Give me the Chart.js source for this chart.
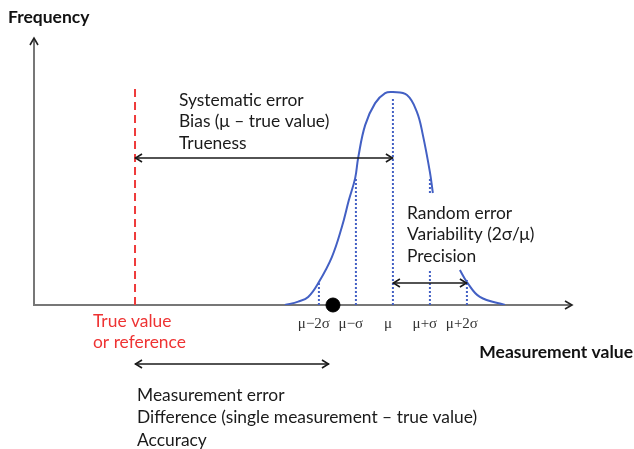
<!DOCTYPE html>
<html><head><meta charset="utf-8">
<style>html,body{margin:0;padding:0;background:#fff;overflow:hidden}</style>
<script src="https://cdn.jsdelivr.net/npm/chart.js@4"></script>
</head><body>
<canvas id="c" width="634" height="449"></canvas>
<script>
// ---- data (x in sigma units, y = relative frequency, peak = 1) ----
const curveX = [6.78, 7.14, 7.41, 7.70, 8.05, 8.32, 8.51, 8.68, 8.76, 8.95, 9.22, 9.49, 9.70, 10.08, 10.35, 10.51, 10.70, 10.78, null, 11.51, 11.70, 12.05, 12.73];
const curveY = [0, 0.016, 0.038, 0.108, 0.225, 0.366, 0.493, 0.596, 0.69, 0.845, 0.948, 0.995, 1.0, 0.986, 0.906, 0.798, 0.624, 0.526, null, 0.164, 0.108, 0.038, 0];
const sigmaLabels = ['μ−2σ', 'μ−σ', 'μ', 'μ+σ', 'μ+2σ'];
const sigmaX = [7.70, 8.70, 9.70, 10.70, 11.70];
const sigmaTop = [0.108, 0.60, 0.97, 0.60, 0.117];
const trueValue = 2.73;
const trueValueTop = 1.03;
const singleMeasurement = 8.08;
const mu = 9.70;
const muPlus2Sigma = 11.70;
const axisMaxX = 14.54;
const axisMaxY = 1.254;

const biasLines = ['Systematic error', 'Bias (μ – true value)', 'Trueness'];
const randomLines = ['Random error', 'Variability (2σ/μ)', 'Precision'];
const accuracyLines = ['Measurement error', 'Difference (single measurement – true value)', 'Accuracy'];
const trueLines = ['True value', 'or reference'];

const curveData = curveX.map((x, i) => (x === null ? {x: NaN, y: null} : {x, y: curveY[i]}));

const BLUE = '#4360c4';
const datasets = [
  {type: 'line', data: curveData, borderColor: BLUE, borderWidth: 2, pointRadius: 0,
   tension: 0.4, spanGaps: false, fill: false}
];
sigmaX.forEach((x, i) => {
  datasets.push({type: 'line', data: [{x, y: 0}, {x, y: sigmaTop[i]}], borderColor: BLUE,
    borderWidth: 2, borderDash: [2, 2], pointRadius: 0, fill: false});
});
datasets.push({type: 'line', data: [{x: trueValue, y: 0}, {x: trueValue, y: trueValueTop}],
  borderColor: '#ee3b3b', borderWidth: 2, borderDash: [8, 5], pointRadius: 0, fill: false});
datasets.push({type: 'scatter', data: [{x: singleMeasurement, y: 0}], pointRadius: 7,
  pointBackgroundColor: '#000', pointBorderColor: '#000', clip: false});

function arrow(ctx, x1, x2, y) {
  ctx.save();
  ctx.strokeStyle = '#1a1a1a'; ctx.lineWidth = 1.6;
  ctx.beginPath(); ctx.moveTo(x1, y); ctx.lineTo(x2, y); ctx.stroke();
  ctx.beginPath();
  ctx.moveTo(x1 + 7, y - 4); ctx.lineTo(x1 + 0.5, y); ctx.lineTo(x1 + 7, y + 4);
  ctx.moveTo(x2 - 7, y - 4); ctx.lineTo(x2 - 0.5, y); ctx.lineTo(x2 - 7, y + 4);
  ctx.stroke();
  ctx.restore();
}

const SANS = 'Lato, "Open Sans", sans-serif';
const diagram = {
  id: 'diagram',
  beforeDatasetsDraw(chart) {
    const ctx = chart.ctx, a = chart.chartArea;
    ctx.save();
    ctx.strokeStyle = '#777'; ctx.lineWidth = 2;
    ctx.beginPath(); ctx.moveTo(a.left, a.top + 1); ctx.lineTo(a.left, a.bottom); ctx.lineTo(a.right - 1, a.bottom); ctx.stroke();
    ctx.strokeStyle = '#222'; ctx.lineWidth = 1.6;
    ctx.beginPath();
    ctx.moveTo(a.left - 4, a.top + 7); ctx.lineTo(a.left, a.top); ctx.lineTo(a.left + 4, a.top + 7);
    ctx.moveTo(a.right - 7, a.bottom - 4); ctx.lineTo(a.right, a.bottom); ctx.lineTo(a.right - 7, a.bottom + 4);
    ctx.stroke();
    ctx.restore();
  },
  afterDatasetsDraw(chart) {
    const ctx = chart.ctx, xs = chart.scales.x;
    const X = v => xs.getPixelForValue(v);
    ctx.save();
    // white box behind the random-error text
    ctx.fillStyle = '#fff';
    ctx.fillRect(401, 195, 140, 74);
    ctx.textBaseline = 'middle';
    ctx.textAlign = 'left';
    ctx.fillStyle = '#111';
    ctx.font = 'bold 17.5px ' + SANS;
    ctx.fillText('Frequency', 8, 17);
    ctx.textAlign = 'right';
    ctx.fillText('Measurement value', 633, 352);
    ctx.textAlign = 'left';
    ctx.font = '17.4px ' + SANS;
    ctx.fillStyle = '#1a1a1a';
    biasLines.forEach((t, i) => ctx.fillText(t, 179, 100 + i * 21.5));
    randomLines.forEach((t, i) => ctx.fillText(t, 407, 213 + i * 21.5));
    accuracyLines.forEach((t, i) => ctx.fillText(t, 137, 395 + i * 22.5));
    ctx.fillStyle = '#ee3333';
    trueLines.forEach((t, i) => ctx.fillText(t, 93, 321 + i * 21.5));
    // sigma labels
    ctx.font = '15px "Liberation Serif", serif';
    ctx.fillStyle = '#333';
    ctx.textAlign = 'center';
    sigmaLabels.forEach((t, i) => ctx.fillText(t, X(sigmaX[i]) - 5, 324));
    ctx.restore();
    arrow(ctx, X(trueValue), X(mu), 158);
    arrow(ctx, X(mu), X(muPlus2Sigma), 283);
    arrow(ctx, X(trueValue), X(singleMeasurement) - 4, 364);
  }
};

new Chart(document.getElementById('c'), {
  data: {datasets},
  options: {
    responsive: false,
    animation: false,
    layout: {padding: {left: 34, right: 62, top: 38, bottom: 144}},
    plugins: {legend: {display: false}, tooltip: {enabled: false}},
    scales: {
      x: {type: 'linear', min: 0, max: axisMaxX, display: false},
      y: {type: 'linear', min: 0, max: axisMaxY, display: false}
    }
  },
  plugins: [diagram]
});
</script>
</body></html>
